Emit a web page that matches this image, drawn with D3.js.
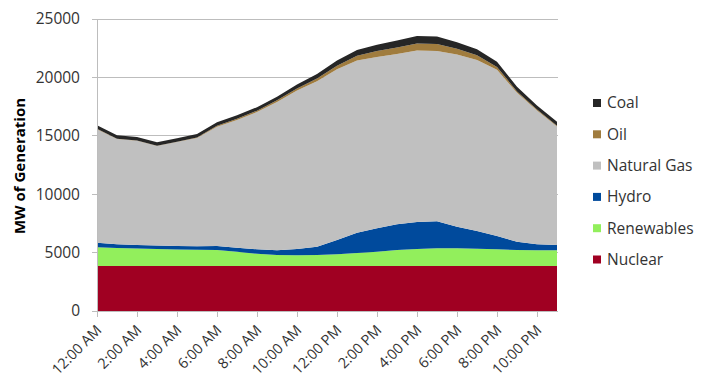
<!DOCTYPE html>
<html><head><meta charset="utf-8">
<script src="https://cdn.jsdelivr.net/npm/d3@7"></script>
<style>
body{margin:0;background:#fff;}
svg{display:block;font-family:"Open Sans",sans-serif;}
</style></head>
<body><svg id="c" width="709" height="381"></svg>
<script>
const hours = ["12:00 AM","1:00 AM","2:00 AM","3:00 AM","4:00 AM","5:00 AM","6:00 AM","7:00 AM","8:00 AM","9:00 AM","10:00 AM","11:00 AM",
  "12:00 PM","1:00 PM","2:00 PM","3:00 PM","4:00 PM","5:00 PM","6:00 PM","7:00 PM","8:00 PM","9:00 PM","10:00 PM","11:00 PM"];
const nuclear    = [3850,3850,3850,3850,3850,3850,3850,3850,3850,3850,3850,3850,3850,3850,3850,3850,3850,3850,3850,3850,3850,3850,3850,3850];
const renewables = [1600,1550,1500,1450,1420,1390,1370,1230,1050,950,920,940,1000,1110,1230,1370,1450,1520,1520,1490,1430,1370,1350,1350];
const hydro      = [400,320,310,300,300,300,350,340,380,400,530,710,1230,1740,2000,2200,2320,2310,1850,1510,1140,710,510,450];
const naturalGas = [9720,9000,8910,8520,8900,9280,10200,10930,11750,12700,13570,14180,14620,14750,14670,14580,14680,14570,14730,14650,14230,12750,11460,10140];
const oil        = [30,30,30,30,30,30,80,100,120,150,180,220,300,400,500,550,600,600,500,400,250,120,80,60];
const coal       = [300,300,300,300,300,300,300,300,300,300,350,400,450,500,550,600,650,650,550,500,450,400,350,350];
const yTicks = [0,5000,10000,15000,20000,25000];
const xTickLabels = ["12:00 AM","2:00 AM","4:00 AM","6:00 AM","8:00 AM","10:00 AM","12:00 PM","2:00 PM","4:00 PM","6:00 PM","8:00 PM","10:00 PM"];

const series = [
  {name:"Nuclear", values:nuclear, color:"#A00022"},
  {name:"Renewables", values:renewables, color:"#92EF5C"},
  {name:"Hydro", values:hydro, color:"#004A9C"},
  {name:"Natural Gas", values:naturalGas, color:"#C0C0C0"},
  {name:"Oil", values:oil, color:"#A07C3E"},
  {name:"Coal", values:coal, color:"#262626"}
];

const rows = hours.map((h,i)=>{const r={hour:h}; series.forEach(s=>r[s.name]=s.values[i]); return r;});
const stack = d3.stack().keys(series.map(s=>s.name))(rows);

const svg = d3.select("#c");
const x = d3.scalePoint().domain(hours).range([97,557]);
const y = d3.scaleLinear().domain([0,25000]).range([311,19]);

// gridlines
svg.append("g").selectAll("line").data(yTicks).join("line")
  .attr("x1",92).attr("x2",558).attr("y1",d=>y(d)).attr("y2",d=>y(d))
  .attr("stroke","#BDBDBD").attr("stroke-width",1).attr("shape-rendering","crispEdges");

const area = d3.area().x(d=>x(d.data.hour)).y0(d=>y(d[0])).y1(d=>y(d[1]));
svg.append("g").selectAll("path").data(stack).join("path")
  .attr("d",area).attr("fill",(d,i)=>series[i].color);

// y axis
const yAxis = d3.axisLeft(y).tickValues(yTicks).tickSize(0).tickPadding(17).tickFormat(d3.format("d"));
const gy = svg.append("g").attr("transform","translate(97,0)").call(yAxis);
gy.select(".domain").attr("stroke","#BDBDBD");
gy.selectAll("text").attr("font-size",15.5).attr("fill","#333").attr("font-family","Open Sans");

// x axis
const xAxis = d3.axisBottom(x).tickValues(xTickLabels).tickSize(6).tickSizeOuter(0);
const gx = svg.append("g").attr("transform","translate(0,311)").call(xAxis);
gx.select(".domain").attr("stroke","#BDBDBD");
gx.selectAll(".tick line").attr("stroke","#BDBDBD");
gx.selectAll("text").attr("font-size",14.5).attr("fill","#333").attr("font-family","Open Sans")
  .attr("text-anchor","end").attr("dy",null).attr("y",0)
  .attr("transform","translate(5,20) rotate(-45)");

// y title
svg.append("text").attr("transform","translate(25,166) rotate(-90)")
  .attr("text-anchor","middle").attr("font-size",15).attr("font-weight","bold").attr("fill","#000")
  .text("MW of Generation");

// legend
const legendOrder = series.slice().reverse();
const lg = svg.append("g").selectAll("g").data(legendOrder).join("g")
  .attr("transform",(d,i)=>`translate(593,${103+i*31.3})`);
lg.append("rect").attr("x",0).attr("y",-4).attr("width",8).attr("height",8).attr("fill",d=>d.color);
lg.append("text").attr("x",14).attr("y",0).attr("dy","0.35em").attr("font-size",15.5).attr("fill","#333").text(d=>d.name);
</script></body></html>
